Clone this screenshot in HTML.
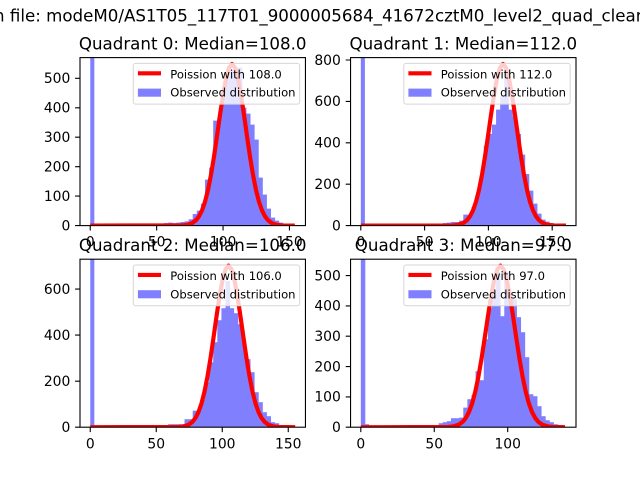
<!DOCTYPE html>
<html><head><meta charset="utf-8"><style>
html,body{margin:0;padding:0;background:#fff;}
svg{display:block;}
text{font-family:"DejaVu Sans","Liberation Sans",sans-serif;fill:#000;}
.tk{font-size:13.89px;}
.ti{font-size:16.67px;}
.lg{font-size:11.57px;}
</style></head><body>
<svg width="640" height="480" viewBox="0 0 640 480" xmlns="http://www.w3.org/2000/svg">
<defs>
<clipPath id="c0"><rect x="80" y="57.6" width="225.45" height="168"/></clipPath>
<clipPath id="c1"><rect x="350.55" y="57.6" width="225.45" height="168"/></clipPath>
<clipPath id="c2"><rect x="80" y="259.2" width="225.45" height="168"/></clipPath>
<clipPath id="c3"><rect x="350.55" y="259.2" width="225.45" height="168"/></clipPath>
</defs>
<rect width="640" height="480" fill="#fff"/>

<!-- suptitle -->
<text class="ti" x="-6" y="21.5">n file: modeM0/AS1T05_117T01_9000005684_41672cztM0_level2_quad_clean.evt</text>

<!-- ========== Q0 ========== -->
<g clip-path="url(#c0)">
<g transform="translate(90.25,225.6) scale(1,-1)" fill="#8080ff">
<rect x="0" y="0" width="4.1" height="170"/>
<rect x="73.78" y="0" width="4.5" height="2.5"/>
<rect x="77.88" y="0" width="4.5" height="3"/>
<rect x="81.98" y="0" width="4.5" height="2.5"/>
<rect x="86.08" y="0" width="4.5" height="3"/>
<rect x="90.18" y="0" width="4.5" height="3.6"/>
<rect x="94.28" y="0" width="4.5" height="4.3"/>
<rect x="98.38" y="0" width="4.5" height="6.3"/>
<rect x="102.48" y="0" width="4.5" height="11.6"/>
<rect x="106.57" y="0" width="4.5" height="15"/>
<rect x="110.67" y="0" width="4.5" height="22"/>
<rect x="114.77" y="0" width="4.5" height="46"/>
<rect x="118.87" y="0" width="4.5" height="58"/>
<rect x="122.97" y="0" width="4.5" height="105"/>
<rect x="127.07" y="0" width="4.5" height="108"/>
<rect x="131.17" y="0" width="4.5" height="135"/>
<rect x="135.27" y="0" width="4.5" height="150"/>
<rect x="139.37" y="0" width="4.5" height="155"/>
<rect x="143.47" y="0" width="4.5" height="158"/>
<rect x="147.56" y="0" width="4.5" height="158"/>
<rect x="151.66" y="0" width="4.5" height="118"/>
<rect x="155.76" y="0" width="4.5" height="112"/>
<rect x="159.86" y="0" width="4.5" height="101"/>
<rect x="163.96" y="0" width="4.5" height="86"/>
<rect x="168.06" y="0" width="4.5" height="48"/>
<rect x="172.16" y="0" width="4.5" height="31"/>
<rect x="176.26" y="0" width="4.5" height="17"/>
<rect x="180.36" y="0" width="4.5" height="8"/>
<rect x="184.46" y="0" width="4.5" height="5"/>
<rect x="188.55" y="0" width="4.5" height="3"/>
<rect x="192.65" y="0" width="4.5" height="2"/>
<rect x="196.75" y="0" width="4.5" height="1"/>
<rect x="200.85" y="0" width="4.1" height="0.5"/>
</g>
<path transform="translate(232,225.6)" fill="none" stroke="#ff0000" stroke-width="4.17" stroke-linejoin="round" d="M-141.75 0 L-50 -0.2 L-45 -0.8 L-40 -2.4 L-36 -5.4 L-33 -9.3 L-30 -15.2 L-27 -23.8 L-24 -35.6 L-21 -50.8 L-18 -69 L-15 -89.5 L-12 -110.7 L-9 -130.6 L-6 -147 L-3 -157.8 L0 -161.6 L3 -157.8 L6 -147 L9 -130.6 L12 -110.7 L15 -89.5 L18 -69 L21 -50.8 L24 -35.6 L27 -23.8 L30 -15.2 L33 -9.3 L36 -5.4 L40 -2.4 L45 -0.8 L50 -0.2 L62.8 0"/>
</g>
<rect x="80" y="57.6" width="225.45" height="168" fill="none" stroke="#000" stroke-width="1.1"/>
<g stroke="#000" stroke-width="1.1">
<path d="M90.25 225.6V230.5M156.65 225.6V230.5M223.05 225.6V230.5M289.45 225.6V230.5"/>
<path d="M80 225.6H75.1M80 196.1H75.1M80 166.7H75.1M80 137.2H75.1M80 107.8H75.1M80 78.3H75.1"/>
</g>
<g class="tk" text-anchor="middle">
<text x="90.25" y="246.7">0</text><text x="156.65" y="246.7">50</text><text x="223.05" y="246.7">100</text><text x="289.45" y="246.7">150</text>
</g>
<g class="tk" text-anchor="end">
<text x="70.3" y="230.4">0</text><text x="70.3" y="200.9">100</text><text x="70.3" y="171.5">200</text><text x="70.3" y="142">300</text><text x="70.3" y="112.6">400</text><text x="70.3" y="83.1">500</text>
</g>
<text class="ti" x="192.7" y="49.3" text-anchor="middle">Quadrant 0: Median=108.0</text>
<g transform="translate(133.3,63.4)">
<rect x="0" y="0" width="166.4" height="40.7" rx="2.3" fill="rgba(255,255,255,0.8)" stroke="#d6d6d6" stroke-width="1"/>
<path d="M4.6 9.9H27.7" stroke="#ff0000" stroke-width="4.17"/>
<rect x="4.6" y="25.2" width="23.1" height="8.1" fill="#8080ff"/>
<text class="lg" x="37" y="14.9">Poission with 108.0</text>
<text class="lg" x="37" y="33.3">Observed distribution</text>
</g>

<!-- ========== Q1 ========== -->
<g clip-path="url(#c1)">
<g transform="translate(360.8,225.6) scale(1,-1)" fill="#8080ff">
<rect x="0" y="0" width="4.1" height="170"/>
<rect x="73.78" y="0" width="4.5" height="1.5"/>
<rect x="77.88" y="0" width="4.5" height="2"/>
<rect x="81.98" y="0" width="4.5" height="2.5"/>
<rect x="86.08" y="0" width="4.5" height="3"/>
<rect x="90.18" y="0" width="4.5" height="3.6"/>
<rect x="94.28" y="0" width="4.5" height="3.6"/>
<rect x="98.38" y="0" width="4.5" height="5"/>
<rect x="102.48" y="0" width="4.5" height="11"/>
<rect x="106.57" y="0" width="4.5" height="11"/>
<rect x="110.67" y="0" width="4.5" height="18.6"/>
<rect x="114.77" y="0" width="4.5" height="30"/>
<rect x="118.87" y="0" width="4.5" height="50"/>
<rect x="122.97" y="0" width="4.5" height="80"/>
<rect x="127.07" y="0" width="4.5" height="91.6"/>
<rect x="131.17" y="0" width="4.5" height="101"/>
<rect x="135.27" y="0" width="4.5" height="116"/>
<rect x="139.37" y="0" width="4.5" height="130"/>
<rect x="143.47" y="0" width="4.5" height="155"/>
<rect x="147.56" y="0" width="4.5" height="116"/>
<rect x="151.66" y="0" width="4.5" height="109"/>
<rect x="155.76" y="0" width="4.5" height="91.6"/>
<rect x="159.86" y="0" width="4.5" height="71"/>
<rect x="163.96" y="0" width="4.5" height="51.6"/>
<rect x="168.06" y="0" width="4.5" height="35"/>
<rect x="172.16" y="0" width="4.5" height="22"/>
<rect x="176.26" y="0" width="4.5" height="12"/>
<rect x="180.36" y="0" width="4.5" height="6"/>
<rect x="184.46" y="0" width="4.5" height="4"/>
<rect x="188.55" y="0" width="4.5" height="2.6"/>
<rect x="192.65" y="0" width="4.5" height="1.5"/>
<rect x="196.75" y="0" width="4.5" height="1"/>
<rect x="200.85" y="0" width="4.1" height="0.5"/>
</g>
<path transform="translate(503,225.6)" fill="none" stroke="#ff0000" stroke-width="4.17" stroke-linejoin="round" d="M-142.2 0 L-50 -0.2 L-45 -0.8 L-40 -2.4 L-36 -5.4 L-33 -9.3 L-30 -15.2 L-27 -23.8 L-24 -35.6 L-21 -50.8 L-18 -69 L-15 -89.5 L-12 -110.7 L-9 -130.6 L-6 -147 L-3 -157.8 L0 -161.6 L3 -157.8 L6 -147 L9 -130.6 L12 -110.7 L15 -89.5 L18 -69 L21 -50.8 L24 -35.6 L27 -23.8 L30 -15.2 L33 -9.3 L36 -5.4 L40 -2.4 L45 -0.8 L50 -0.2 L63 0"/>
</g>
<rect x="350.55" y="57.6" width="225.45" height="168" fill="none" stroke="#000" stroke-width="1.1"/>
<g stroke="#000" stroke-width="1.1">
<path d="M360.8 225.6V230.5M424.6 225.6V230.5M488.4 225.6V230.5M552.2 225.6V230.5"/>
<path d="M350.55 225.6H345.7M350.55 184.2H345.7M350.55 142.8H345.7M350.55 101.4H345.7M350.55 60H345.7"/>
</g>
<g class="tk" text-anchor="middle">
<text x="360.8" y="246.7">0</text><text x="424.6" y="246.7">50</text><text x="488.4" y="246.7">100</text><text x="552.2" y="246.7">150</text>
</g>
<g class="tk" text-anchor="end">
<text x="340.85" y="230.4">0</text><text x="340.85" y="189">200</text><text x="340.85" y="147.6">400</text><text x="340.85" y="106.2">600</text><text x="340.85" y="64.8">800</text>
</g>
<text class="ti" x="463.3" y="49.3" text-anchor="middle">Quadrant 1: Median=112.0</text>
<g transform="translate(403.8,63.4)">
<rect x="0" y="0" width="166.4" height="40.7" rx="2.3" fill="rgba(255,255,255,0.8)" stroke="#d6d6d6" stroke-width="1"/>
<path d="M4.6 9.9H27.7" stroke="#ff0000" stroke-width="4.17"/>
<rect x="4.6" y="25.2" width="23.1" height="8.1" fill="#8080ff"/>
<text class="lg" x="37" y="14.9">Poission with 112.0</text>
<text class="lg" x="37" y="33.3">Observed distribution</text>
</g>

<!-- ========== Q2 ========== -->
<g clip-path="url(#c2)">
<g transform="translate(90.25,427.2) scale(1,-1)" fill="#8080ff">
<rect x="0" y="0" width="4.1" height="170"/>
<rect x="73.78" y="0" width="4.5" height="2"/>
<rect x="77.88" y="0" width="4.5" height="3"/>
<rect x="81.98" y="0" width="4.5" height="3"/>
<rect x="86.08" y="0" width="4.5" height="3"/>
<rect x="90.18" y="0" width="4.5" height="3"/>
<rect x="94.28" y="0" width="4.5" height="8"/>
<rect x="98.38" y="0" width="4.5" height="8"/>
<rect x="102.48" y="0" width="4.5" height="16.5"/>
<rect x="106.57" y="0" width="4.5" height="16.5"/>
<rect x="110.67" y="0" width="4.5" height="28"/>
<rect x="114.77" y="0" width="4.5" height="45"/>
<rect x="118.87" y="0" width="4.5" height="65"/>
<rect x="122.97" y="0" width="4.5" height="85"/>
<rect x="127.07" y="0" width="4.5" height="107"/>
<rect x="131.17" y="0" width="4.5" height="119"/>
<rect x="135.27" y="0" width="4.5" height="146"/>
<rect x="139.37" y="0" width="4.5" height="119"/>
<rect x="143.47" y="0" width="4.5" height="114"/>
<rect x="147.56" y="0" width="4.5" height="103"/>
<rect x="151.66" y="0" width="4.5" height="85"/>
<rect x="155.76" y="0" width="4.5" height="68"/>
<rect x="159.86" y="0" width="4.5" height="55"/>
<rect x="163.96" y="0" width="4.5" height="35"/>
<rect x="168.06" y="0" width="4.5" height="25"/>
<rect x="172.16" y="0" width="4.5" height="15"/>
<rect x="176.26" y="0" width="4.5" height="11"/>
<rect x="180.36" y="0" width="4.5" height="5"/>
<rect x="184.46" y="0" width="4.5" height="4"/>
<rect x="188.55" y="0" width="4.5" height="2"/>
<rect x="192.65" y="0" width="4.5" height="1.5"/>
<rect x="196.75" y="0" width="4.5" height="1"/>
<rect x="200.85" y="0" width="4.1" height="0.5"/>
</g>
<path transform="translate(228.5,427.2)" fill="none" stroke="#ff0000" stroke-width="4.17" stroke-linejoin="round" d="M-138.25 0 L-50 -0.2 L-45 -0.8 L-40 -2.4 L-36 -5.4 L-33 -9.3 L-30 -15.2 L-27 -23.8 L-24 -35.6 L-21 -50.8 L-18 -69 L-15 -89.5 L-12 -110.7 L-9 -130.6 L-6 -147 L-3 -157.8 L0 -161.6 L3 -157.8 L6 -147 L9 -130.6 L12 -110.7 L15 -89.5 L18 -69 L21 -50.8 L24 -35.6 L27 -23.8 L30 -15.2 L33 -9.3 L36 -5.4 L40 -2.4 L45 -0.8 L50 -0.2 L66.7 0"/>
</g>
<rect x="80" y="259.2" width="225.45" height="168" fill="none" stroke="#000" stroke-width="1.1"/>
<g stroke="#000" stroke-width="1.1">
<path d="M90.25 427.2V432.1M156.25 427.2V432.1M222.25 427.2V432.1M288.25 427.2V432.1"/>
<path d="M80 427.2H75.1M80 381.2H75.1M80 335.1H75.1M80 289.1H75.1"/>
</g>
<g class="tk" text-anchor="middle">
<text x="90.25" y="448.3">0</text><text x="156.25" y="448.3">50</text><text x="222.25" y="448.3">100</text><text x="288.25" y="448.3">150</text>
</g>
<g class="tk" text-anchor="end">
<text x="70.3" y="432">0</text><text x="70.3" y="386">200</text><text x="70.3" y="339.9">400</text><text x="70.3" y="293.9">600</text>
</g>
<text class="ti" x="192.7" y="250.9" text-anchor="middle">Quadrant 2: Median=106.0</text>
<g transform="translate(133.3,265)">
<rect x="0" y="0" width="166.4" height="40.7" rx="2.3" fill="rgba(255,255,255,0.8)" stroke="#d6d6d6" stroke-width="1"/>
<path d="M4.6 9.9H27.7" stroke="#ff0000" stroke-width="4.17"/>
<rect x="4.6" y="25.2" width="23.1" height="8.1" fill="#8080ff"/>
<text class="lg" x="37" y="14.9">Poission with 106.0</text>
<text class="lg" x="37" y="33.3">Observed distribution</text>
</g>

<!-- ========== Q3 ========== -->
<g clip-path="url(#c3)">
<g transform="translate(360.8,427.2) scale(1,-1)" fill="#8080ff">
<rect x="0" y="0" width="4.5" height="170"/>
<rect x="4.1" y="0" width="4.1" height="3"/>
<rect x="77.88" y="0" width="4.5" height="4"/>
<rect x="81.98" y="0" width="4.5" height="5"/>
<rect x="86.08" y="0" width="4.5" height="6"/>
<rect x="90.18" y="0" width="4.5" height="9"/>
<rect x="94.28" y="0" width="4.5" height="9"/>
<rect x="98.38" y="0" width="4.5" height="9.6"/>
<rect x="102.48" y="0" width="4.5" height="19.6"/>
<rect x="106.57" y="0" width="4.5" height="28"/>
<rect x="110.67" y="0" width="4.5" height="32"/>
<rect x="114.77" y="0" width="4.5" height="56"/>
<rect x="118.87" y="0" width="4.5" height="47"/>
<rect x="122.97" y="0" width="4.5" height="88"/>
<rect x="127.07" y="0" width="4.5" height="119"/>
<rect x="131.17" y="0" width="4.5" height="132"/>
<rect x="135.27" y="0" width="4.5" height="155"/>
<rect x="139.37" y="0" width="4.5" height="111"/>
<rect x="143.47" y="0" width="4.5" height="155"/>
<rect x="147.56" y="0" width="4.5" height="129"/>
<rect x="151.66" y="0" width="4.5" height="128"/>
<rect x="155.76" y="0" width="4.5" height="110"/>
<rect x="159.86" y="0" width="4.5" height="95"/>
<rect x="163.96" y="0" width="4.5" height="70"/>
<rect x="168.06" y="0" width="4.5" height="33"/>
<rect x="172.16" y="0" width="4.5" height="31"/>
<rect x="176.26" y="0" width="4.5" height="21"/>
<rect x="180.36" y="0" width="4.5" height="11"/>
<rect x="184.46" y="0" width="4.5" height="7"/>
<rect x="188.55" y="0" width="4.5" height="5"/>
<rect x="192.65" y="0" width="4.5" height="3"/>
<rect x="196.75" y="0" width="4.5" height="1"/>
<rect x="200.85" y="0" width="4.1" height="0.5"/>
</g>
<path transform="translate(500.5,427.2) scale(1.05,1)" fill="none" stroke="#ff0000" stroke-width="4.17" stroke-linejoin="round" vector-effect="non-scaling-stroke" d="M-133 0 L-50 -0.2 L-45 -0.8 L-40 -2.4 L-36 -5.4 L-33 -9.3 L-30 -15.2 L-27 -23.8 L-24 -35.6 L-21 -50.8 L-18 -69 L-15 -89.5 L-12 -110.7 L-9 -130.6 L-6 -147 L-3 -157.8 L0 -161.6 L3 -157.8 L6 -147 L9 -130.6 L12 -110.7 L15 -89.5 L18 -69 L21 -50.8 L24 -35.6 L27 -23.8 L30 -15.2 L33 -9.3 L36 -5.4 L40 -2.4 L45 -0.8 L50 -0.2 L61.4 0"/>
</g>
<rect x="350.55" y="259.2" width="225.45" height="168" fill="none" stroke="#000" stroke-width="1.1"/>
<g stroke="#000" stroke-width="1.1">
<path d="M360.8 427.2V432.1M434.25 427.2V432.1M507.7 427.2V432.1"/>
<path d="M350.55 427.2H345.7M350.55 396.9H345.7M350.55 366.6H345.7M350.55 336.2H345.7M350.55 305.9H345.7M350.55 275.6H345.7"/>
</g>
<g class="tk" text-anchor="middle">
<text x="360.8" y="448.3">0</text><text x="434.25" y="448.3">50</text><text x="507.7" y="448.3">100</text>
</g>
<g class="tk" text-anchor="end">
<text x="340.85" y="432">0</text><text x="340.85" y="401.7">100</text><text x="340.85" y="371.4">200</text><text x="340.85" y="341">300</text><text x="340.85" y="310.7">400</text><text x="340.85" y="280.4">500</text>
</g>
<text class="ti" x="463.3" y="250.9" text-anchor="middle">Quadrant 3: Median=97.0</text>
<g transform="translate(403.8,265)">
<rect x="0" y="0" width="166.4" height="40.7" rx="2.3" fill="rgba(255,255,255,0.8)" stroke="#d6d6d6" stroke-width="1"/>
<path d="M4.6 9.9H27.7" stroke="#ff0000" stroke-width="4.17"/>
<rect x="4.6" y="25.2" width="23.1" height="8.1" fill="#8080ff"/>
<text class="lg" x="37" y="14.9">Poission with 97.0</text>
<text class="lg" x="37" y="33.3">Observed distribution</text>
</g>
</svg>
</body></html>
